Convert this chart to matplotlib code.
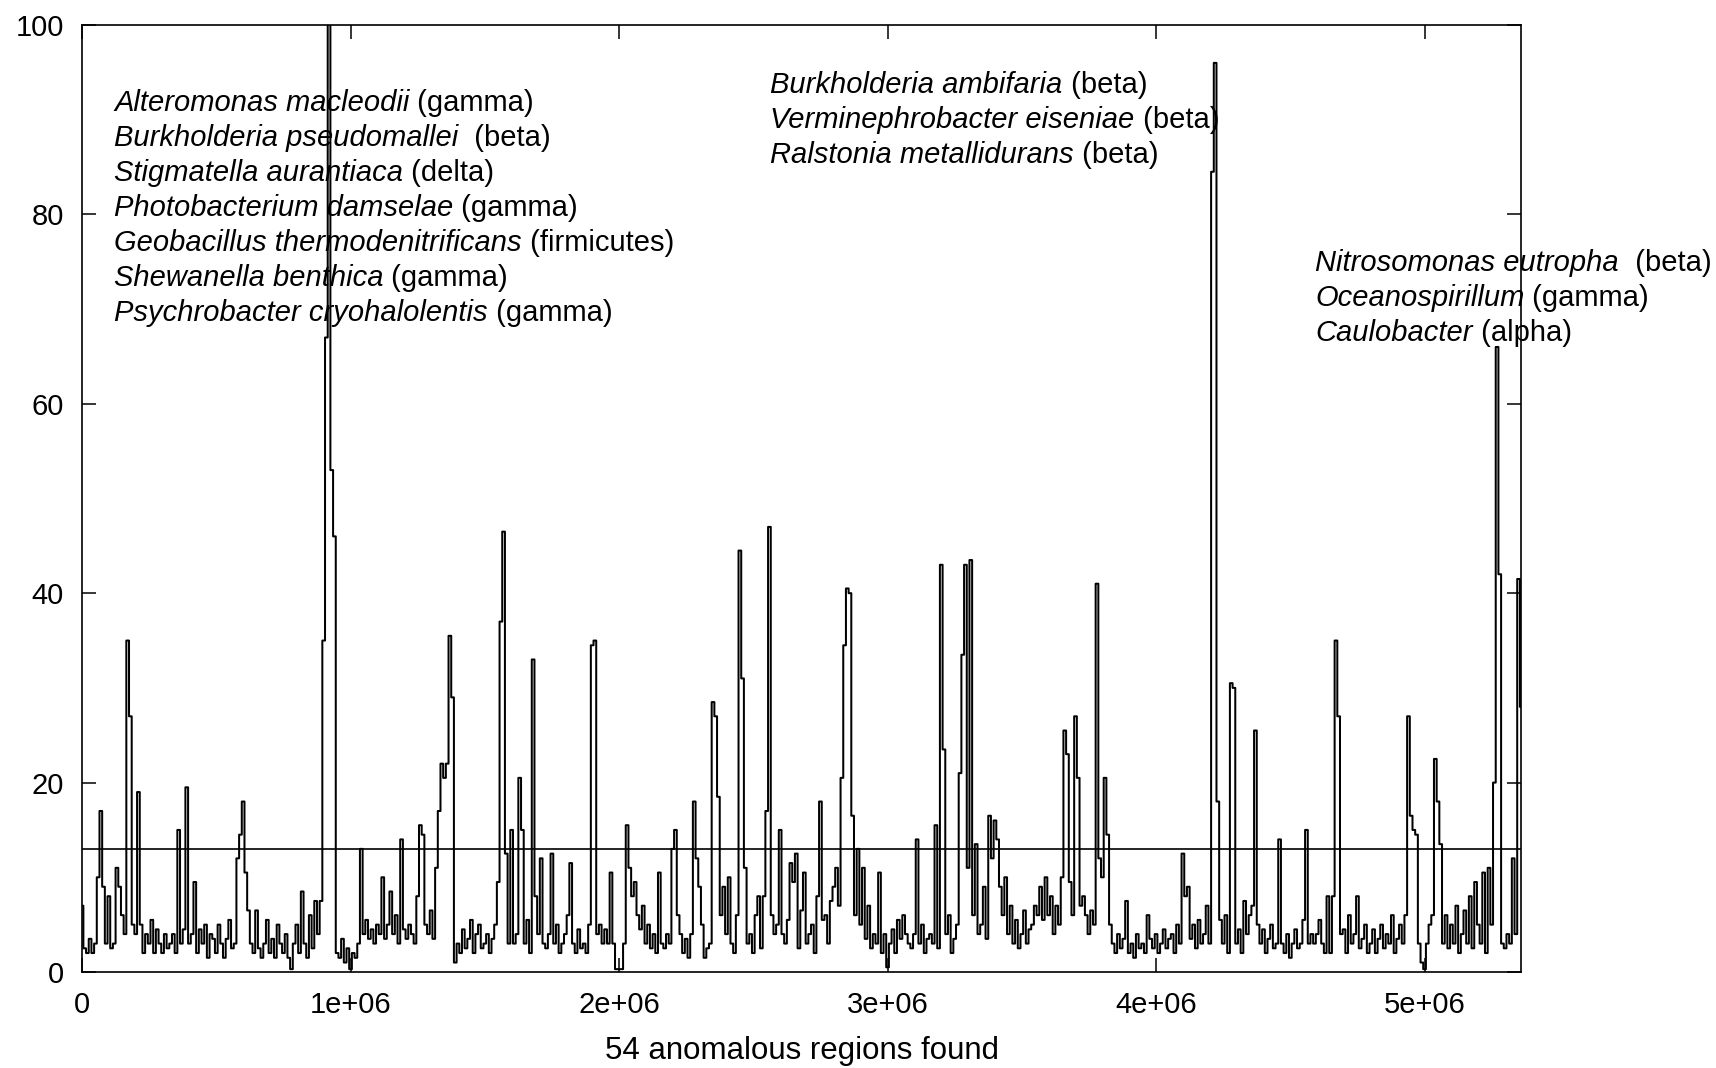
import numpy as np
import matplotlib
matplotlib.use('Agg')
import matplotlib.pyplot as plt

plt.rcParams['font.family'] = ['Liberation Sans', 'DejaVu Sans']

# score per 10 kb window along the genome
window = 10000
score = [
    7, 2.5, 2, 3.5, 2, 3, 10, 17, 9, 3, 8, 2.5, 3, 11, 9, 6, 4, 35, 27, 5,
    4, 19, 5, 2, 4, 3, 5.5, 2, 4.5, 3, 2, 4, 2.5, 3, 4, 2, 15, 3, 4.5, 19.5,
    3, 4, 9.5, 2, 4.5, 3, 5, 1.5, 4, 3.5, 2, 5, 3, 1.5, 3.5, 5.5, 2.5, 3, 12, 14.5,
    18, 10.5, 6.5, 3, 2, 6.5, 2.5, 1.5, 3, 5.5, 2, 3.5, 1.5, 5, 3, 2, 4, 1.5, 0.3, 3,
    5, 2, 8.5, 3, 1.5, 6, 2.5, 7.5, 4, 7.5, 35, 67, 105, 53, 46, 2, 1.5, 3.5, 1, 2.5,
    0.3, 2, 1.5, 3, 13, 4, 5.5, 3.5, 4.5, 3, 5, 4, 10, 3.5, 5, 8.5, 4, 6, 3, 14,
    4.5, 3.5, 5, 4, 3, 8, 15.5, 14.5, 5, 4, 6.5, 3.5, 11, 17, 22, 20.5, 22, 35.5, 29, 1,
    3, 2, 4.5, 2.5, 3.5, 5.5, 2, 4, 5, 2.5, 3, 4, 2, 3.5, 5, 9.5, 37, 46.5, 12.5, 3,
    15, 3, 4, 20.5, 15, 3, 5.5, 2, 33, 8, 4, 12, 3, 2.5, 4, 12.5, 3, 5, 2, 3,
    4, 6, 11.5, 3, 2, 4.5, 2.5, 3, 2, 5, 34.5, 35, 4, 5, 3, 4.5, 3, 10.5, 3, 0.3,
    0.3, 0.3, 3, 15.5, 11, 8, 9.5, 6, 4.5, 7, 3, 5, 2.5, 4, 2, 10.5, 3, 2.5, 4, 3,
    13, 15, 6, 4, 2, 3.5, 1.5, 4, 18, 12, 9, 5, 1.5, 2.5, 3, 28.5, 27, 18.5, 6, 9,
    4, 10, 3, 2, 6, 44.5, 31, 11, 3, 4, 2, 6, 8, 2.5, 8, 17, 47, 6, 4, 5,
    15, 4, 3, 5.5, 11.5, 9.5, 12.5, 2.5, 6.5, 10.5, 3, 4, 5, 2, 8, 18, 5.5, 6, 3, 7.5,
    9, 11, 7, 20.5, 34.5, 40.5, 40, 16.5, 6, 13, 5, 11, 3.5, 7, 2.5, 4, 3, 10.5, 2, 4,
    0.5, 3, 4.5, 2, 5.5, 3.5, 6, 4, 3, 2.5, 4, 14, 3, 5, 2, 3.5, 4, 3, 15.5, 2.5,
    43, 23.5, 4, 6, 2, 3.5, 5, 21, 33.5, 43, 11, 43.5, 6, 13.5, 4, 5, 9, 3.5, 16.5, 12,
    16, 14, 9, 6, 10, 4, 7, 3, 5.5, 2.5, 4, 6.5, 3, 4.5, 5, 7, 6, 9, 5.5, 10,
    6, 8, 4, 7, 5, 10, 25.5, 23, 9.5, 6, 27, 20.5, 7, 8, 6, 4, 6.5, 5, 41, 12,
    10, 20.5, 14.5, 5, 3, 2, 4, 2.5, 3.5, 7.5, 2, 3, 1.5, 4, 2.5, 3, 2, 6, 3.5, 2.5,
    4, 2, 3, 4.5, 2.5, 3.5, 4, 2, 5, 3, 12.5, 8, 9, 3.5, 5, 2.5, 5.5, 3, 4, 7,
    3, 84.5, 96, 18, 5.5, 3, 6, 2, 30.5, 30, 3, 4.5, 2, 7.5, 4, 6, 7, 25.5, 5, 3,
    4.5, 2, 3.5, 5, 2.5, 3, 14, 3, 2, 4, 1.5, 3, 4.5, 2.5, 3, 5.5, 15, 3, 4, 3,
    4, 5.5, 3, 2, 8, 2, 8, 35, 27, 4, 4.5, 2, 6, 3, 4, 8, 2.5, 3.5, 5, 2,
    3, 4.5, 2, 3.5, 5, 2.5, 4, 3, 6, 2, 3.5, 5, 3, 6, 27, 16.5, 15, 14.5, 3, 1,
    0.3, 3, 5, 6, 22.5, 18, 13.5, 3, 6, 2.5, 5, 3, 7, 2, 4, 6.5, 3, 8, 2.5, 9.5,
    5, 3, 10.5, 2, 11, 5, 20, 66, 42, 3, 2.5, 4, 3, 12, 4, 41.5, 28,
]
threshold = 13.0

xticks = [0, 1e6, 2e6, 3e6, 4e6, 5e6]
xticklabels = ['0', '1e+06', '2e+06', '3e+06', '4e+06', '5e+06']
yticks = [0, 20, 40, 60, 80, 100]

# (italic species name, plain suffix)
block_left = [
    ('Alteromonas macleodii', ' (gamma)'),
    ('Burkholderia pseudomallei', '  (beta)'),
    ('Stigmatella aurantiaca', ' (delta)'),
    ('Photobacterium damselae', ' (gamma)'),
    ('Geobacillus thermodenitrificans', ' (firmicutes)'),
    ('Shewanella benthica', ' (gamma)'),
    ('Psychrobacter cryohalolentis', ' (gamma)'),
]
block_mid = [
    ('Burkholderia ambifaria', ' (beta)'),
    ('Verminephrobacter eiseniae', ' (beta)'),
    ('Ralstonia metallidurans', ' (beta)'),
]
block_right = [
    ('Nitrosomonas eutropha', '  (beta)'),
    ('Oceanospirillum', ' (gamma)'),
    ('Caulobacter', ' (alpha)'),
]

pos = np.arange(len(score)) * window

fig = plt.figure(figsize=(17.16, 10.68), dpi=100)
ax = fig.add_axes([0.0478, 0.0899, 0.8387, 0.8867])

ax.plot(pos, score, color='black', lw=1.45, drawstyle='steps-mid')
ax.axhline(threshold, color='black', lw=1.2)

ax.set_xlim(0, 5.36e6)
ax.set_ylim(0, 100)
ax.set_xticks(xticks)
ax.set_xticklabels(xticklabels)
ax.set_yticks(yticks)
ax.tick_params(direction='in', length=10, width=1.1, top=True, right=True,
               labelsize=21, colors='black')
ax.tick_params(axis='y', pad=13)
ax.tick_params(axis='x', pad=14)
for s in ax.spines.values():
    s.set_linewidth(1.2)

ax.set_xlabel('54 anomalous regions found', fontsize=22.5, labelpad=12)


def species_block(x0, y0, rows, step=3.7):
    for i, (name, rest) in enumerate(rows):
        t = ax.text(x0, y0 - i * step, name, fontsize=21, fontstyle='italic',
                    va='baseline', ha='left')
        ax.annotate(rest, xy=(1, 0), xycoords=t, fontsize=21,
                    va='bottom', ha='left')


species_block(0.119e6, 90.9, block_left)
species_block(2.564e6, 92.8, block_mid)
species_block(4.592e6, 74.0, block_right)

fig.savefig('out.png', dpi=100)
